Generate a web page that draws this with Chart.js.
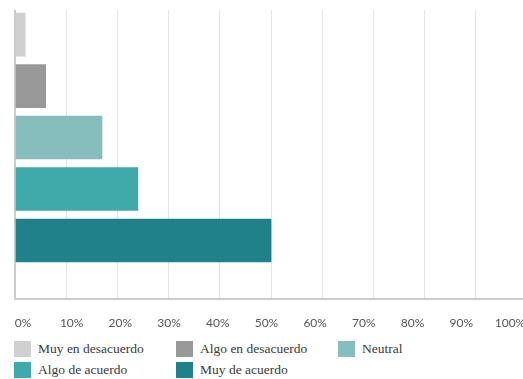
<!DOCTYPE html>
<html>
<head>
<meta charset="utf-8">
<script src="https://cdn.jsdelivr.net/npm/chart.js@4/dist/chart.umd.min.js"></script>
<style>
  html, body { margin: 0; padding: 0; background: #ffffff; overflow: hidden; width: 523px; height: 379px; }
  #wrap { position: absolute; left: 0; top: 0; width: 543px; height: 330px; }
  #legend { position: absolute; left: 14px; top: 341px; display: grid; grid-template-columns: 162px 162px 162px; row-gap: 5px;
            font-family: "Liberation Serif", "DejaVu Serif", serif; font-size: 13.5px; color: #3a3a3a; }
  .item { display: flex; align-items: center; height: 16px; }
  .box { width: 17px; height: 16px; margin-right: 7px; flex: none; }
</style>
</head>
<body>
<div id="wrap"><canvas id="c"></canvas></div>
<div id="legend"></div>
<script>
const categories = ["Muy en desacuerdo", "Algo en desacuerdo", "Neutral", "Algo de acuerdo", "Muy de acuerdo"];
const values = [2, 6, 17, 24, 50];
const colors = ["#d0d0d0", "#999999", "#86bdbd", "#40a9a9", "#1f8189"];
const xTicks = [0, 10, 20, 30, 40, 50, 60, 70, 80, 90, 100];

const canvas = document.getElementById('c');
canvas.width = 543; canvas.height = 330;
canvas.style.width = '543px'; canvas.style.height = '330px';

const chart = new Chart(canvas, {
  type: 'bar',
  data: {
    datasets: [{
      label: 'Respuestas',
      data: values.map((v, i) => ({ x: v, y: i })),
      backgroundColor: colors,
      borderWidth: 0,
      barThickness: 43,
      xAxisID: 'x',
      yAxisID: 'y'
    }]
  },
  options: {
    indexAxis: 'y',
    responsive: false,
    animation: false,
    layout: { padding: { top: 10, left: 15, right: 16, bottom: 0 } },
    plugins: { legend: { display: false }, tooltip: { enabled: false } },
    scales: {
      y: {
        type: 'linear',
        reverse: true,
        offset: false,
        bounds: 'data',
        min: -0.477,
        max: 5.128,
        afterBuildTicks: (s) => { s.ticks = categories.map((c, i) => ({ value: i })); },
        display: false
      },
      x: {
        type: 'linear',
        position: 'bottom',
        weight: 0,
        min: 0,
        max: 100,
        afterBuildTicks: (s) => { s.ticks = xTicks.map(v => ({ value: v })); },
        grid: {
          color: (ctx) => ctx.index === 0 ? '#cccccc' : '#e6e6e6',
          lineWidth: (ctx) => ctx.index === 0 ? 2 : 1,
          drawTicks: false
        },
        border: { display: true, color: '#cccccc', width: 2 },
        ticks: { display: false }
      },
      xLabels: {
        type: 'linear',
        axis: 'x',
        position: 'bottom',
        weight: 1,
        min: -1.64,
        max: 103.5,
        afterBuildTicks: (s) => { s.ticks = xTicks.map(v => ({ value: v })); },
        grid: {
          drawOnChartArea: false,
          drawTicks: true,
          tickLength: 17,
          tickColor: 'rgba(0,0,0,0)'
        },
        border: { display: false },
        ticks: {
          padding: 0,
          color: '#555555',
          font: { family: 'Lato', size: 12 },
          maxRotation: 0,
          autoSkip: false,
          callback: (v) => v + '%'
        }
      }
    }
  }
});

const legend = document.getElementById('legend');
categories.forEach((c, i) => {
  const it = document.createElement('div');
  it.className = 'item';
  const b = document.createElement('span');
  b.className = 'box';
  b.style.background = colors[i];
  const t = document.createElement('span');
  t.textContent = c;
  it.appendChild(b); it.appendChild(t);
  legend.appendChild(it);
});
</script>
</body>
</html>
